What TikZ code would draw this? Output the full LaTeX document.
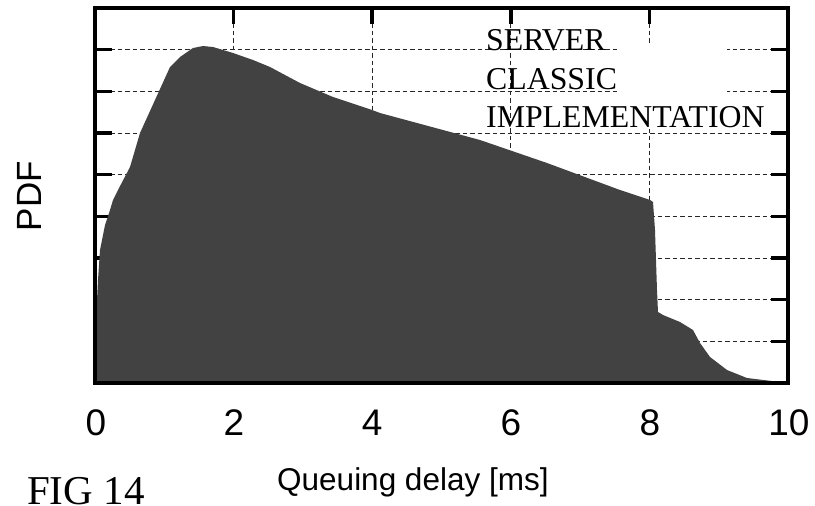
\documentclass[tikz,border=0pt]{standalone}
\usepackage{fontspec}
\setmainfont{Liberation Serif}
\setsansfont{Liberation Sans}
\begin{document}
\begin{tikzpicture}[x=1pt,y=-1pt]
\tikzset{
  gridline/.style={draw=black!85, line width=0.9pt, dash pattern=on 4.5pt off 3pt},
  tickmark/.style={draw=black, line width=3.6pt},
  frameline/.style={draw=black, line width=3.6pt},
  curvefill/.style={fill=black!74, draw=none},
  ticklabel/.style={font=\sffamily\fontsize{37}{44}\selectfont, inner sep=0pt, anchor=base},
  axislabel/.style={font=\sffamily\fontsize{31.5}{37}\selectfont, inner sep=0pt},
  seriflabel/.style={font=\rmfamily\fontsize{31.8}{38}\selectfont, inner sep=0pt, anchor=base west},
  figlabel/.style={font=\rmfamily\fontsize{41}{48}\selectfont, inner sep=0pt, anchor=base west},
}
\useasboundingbox (0,0) rectangle (815,506);
% grid
\foreach \k in {1,...,8}{
  \pgfmathsetmacro\yy{8+41.667*\k}
  \draw[gridline] (95,\yy) -- (788,\yy);
}
\foreach \xx in {233.6,372.2,510.8,649.4}{
  \draw[gridline] (\xx,8) -- (\xx,383);
}
% ticks
\foreach \k in {1,...,8}{
  \pgfmathsetmacro\yy{8+41.667*\k}
  \draw[tickmark] (95,\yy) -- (112,\yy);
  \draw[tickmark] (771,\yy) -- (788,\yy);
}
\foreach \xx in {233.6,372.2,510.8,649.4}{
  \draw[tickmark] (\xx,8) -- (\xx,24);
}
% distribution
\fill[curvefill] (95,383) -- (95,340) -- (97,300) -- (98,280) -- (100,250)
  -- (105,225) -- (110,210) -- (113,200) -- (118,190) -- (130,167)
  -- (140,133) -- (155,100) -- (170,67) -- (180,57) -- (193,48)
  -- (203,46) -- (213,47) -- (233,53) -- (253,60) -- (270,67)
  -- (300,83) -- (333,97) -- (372,110) -- (380,113) -- (480,140)
  -- (547,163) -- (620,190) -- (650,200) -- (653,202) -- (655,230)
  -- (657,290) -- (658,312) -- (663,315) -- (680,322) -- (693,330)
  -- (700,343) -- (710,357) -- (727,370) -- (747,378) -- (780,382)
  -- (788,383) -- cycle;
% frame
\draw[frameline] (95,8) rectangle (788,383);
% legend backing
\fill[white] (620,43) rectangle (727,129);
\node[seriflabel] (srv) at (486,50) {SERVER};
\node[seriflabel] (cls) at (486,89) {CLASSIC};
\node[seriflabel] (impl) at (486,127) {IMPLEMENTATION};
% tick labels
\node[ticklabel] (t0) at (96,435) {0};
\node[ticklabel] (t2) at (234,435) {2};
\node[ticklabel] (t4) at (372.2,435) {4};
\node[ticklabel] (t6) at (511,435) {6};
\node[ticklabel] (t8) at (650,435) {8};
\node[ticklabel] (t10) at (789,435) {10};
% axis labels
\node[axislabel, anchor=base west] (xl) at (277,490) {Queuing delay [ms]};
\node[axislabel, font=\sffamily\fontsize{35}{40}\selectfont, rotate=90] (yl) at (29.5,196) {PDF};
\node[figlabel] (fig) at (27,504) {FIG 14};
\end{tikzpicture}
\end{document}
